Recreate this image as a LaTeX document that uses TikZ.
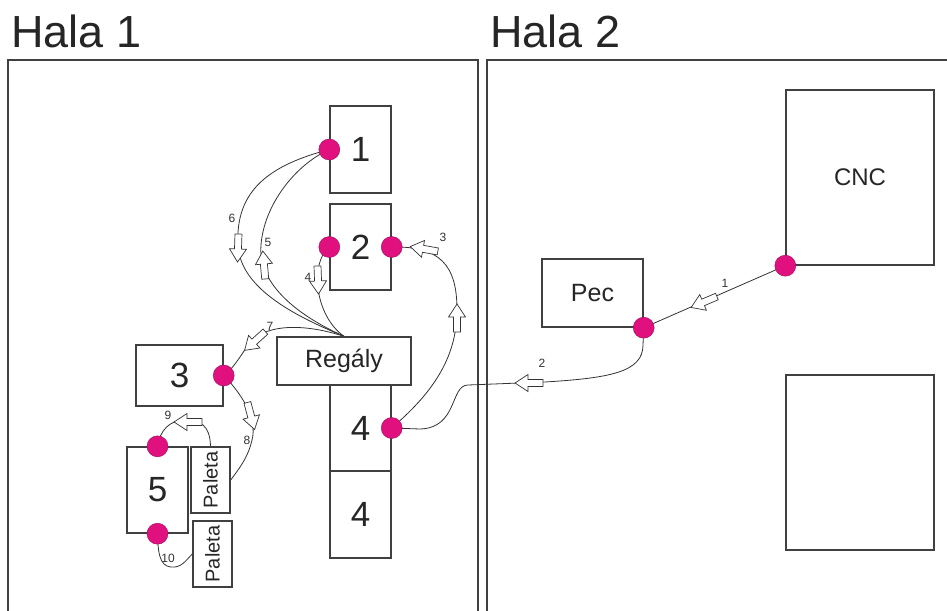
\documentclass[tikz,border=0pt]{standalone}
\usepackage{fontspec}
\setmainfont{Liberation Sans}
\pgfdeclarelayer{background}
\pgfsetlayers{background,main}
\definecolor{dotmag}{HTML}{E0117F}
\definecolor{edge}{HTML}{404040}
\definecolor{wire}{HTML}{333333}
\tikzset{
  box/.style={draw=edge, line width=1.4pt, rectangle, inner sep=0pt, fill=white, text=black!85},
  numbox/.style={box, font=\fontsize{35}{35}\selectfont},
  spot/.style={circle, fill=dotmag, draw=dotmag!70!black, line width=0.4pt, minimum size=21pt, inner sep=0pt},
  wireline/.style={draw=wire, line width=0.8pt},
  hallframe/.style={draw=edge, line width=1.5pt},
  routelabel/.style={font=\fontsize{12}{12}\selectfont, inner sep=0pt, text=wire},
  titletext/.style={font=\fontsize{45}{45}\selectfont, inner sep=0pt, anchor=base west, text=black!85},
  blockarr/.pic={\draw[draw=wire, line width=0.7pt, fill=white] (-14,-3.5) -- (1,-3.5) -- (1,-8.5) -- (14,0) -- (1,8.5) -- (1,3.5) -- (-14,3.5) -- cycle;},
}
\begin{document}
\begin{tikzpicture}[x=1pt,y=-1pt]
\useasboundingbox (0,0) rectangle (947,610);
\clip (0,0) rectangle (947,610);

% titles
\node[titletext] (t1) at (11,48) {Hala 1};
\node[titletext] (t2) at (490,48) {Hala 2};

% boxes
\node[numbox, minimum width=61pt, minimum height=87pt] (b1) at (360.5,149.5) {1};
\node[numbox, minimum width=61pt, minimum height=86pt] (b2) at (360.5,247) {2};
\node[box, minimum width=134pt, minimum height=48pt, font=\fontsize{25}{25}\selectfont] (reg) at (344,361) {Regály};
\node[numbox, minimum width=61pt, minimum height=86pt] (b4a) at (360.5,428) {4};
\node[numbox, minimum width=61pt, minimum height=87pt] (b4b) at (360.5,514.5) {4};
\node[numbox, minimum width=87pt, minimum height=61pt] (b3) at (179.5,375.5) {3};
\node[numbox, minimum width=61pt, minimum height=86pt] (b5) at (157.5,490) {5};
\node[box, minimum width=39pt, minimum height=66pt] (p1) at (210.5,480) {};
\node[font=\fontsize{20}{20}\selectfont, rotate=90, inner sep=0pt, text=black!85] (p1t) at (p1.center) {Paleta};
\node[box, minimum width=39pt, minimum height=66pt] (p2) at (212.5,554) {};
\node[font=\fontsize{20}{20}\selectfont, rotate=90, inner sep=0pt, text=black!85] (p2t) at (p2.center) {Paleta};
\node[box, minimum width=101pt, minimum height=68pt, font=\fontsize{25}{25}\selectfont] (pec) at (592.5,293) {Pec};
\node[box, minimum width=148pt, minimum height=175pt, font=\fontsize{24}{24}\selectfont] (cnc) at (860,177.5) {CNC};
\node[box, minimum width=148pt, minimum height=175pt] (empty) at (860,462.5) {};

% dots
\node[spot] (d1) at (b1.west) {};
\node[spot] (d2l) at (b2.west) {};
\node[spot] (d2r) at (b2.east) {};
\node[spot] (d3) at (b3.east) {};
\node[spot] (d4) at (b4a.east) {};
\node[spot] (d5t) at (b5.north) {};
\node[spot] (d5b) at (b5.south) {};
\node[spot] (dpec) at (pec.south east) {};
\node[spot] (dcnc) at (cnc.south west) {};

\begin{pgfonlayer}{background}
  \fill[white] (0,0) rectangle (947,610);
  \draw[hallframe] (8,60) rectangle (478,650);
  \draw[hallframe] (487,60) rectangle (980,650);
  % route 1
  \draw[wireline] (dcnc.center) -- (dpec.center);
  % route 2
  \draw[wireline] (dpec.center) -- (643,345) .. controls (643,372) and (610,378) .. (545,382) -- (468,385) .. controls (450,385) and (458,428) .. (420,429) -- (d4.center);
  % route 3
  \draw[wireline] (d4.center) .. controls (430,395) and (457,360) .. (457,310) .. controls (457,265) and (440,246) .. (d2r.center);
  % route 4
  \draw[wireline] (reg.north) .. controls (314,315) and (310,262) .. (d2l.center);
  % route 5
  \draw[wireline] (reg.north) .. controls (290,312) and (258,280) .. (261,245) .. controls (264,205) and (295,165) .. (d1.center);
  % route 6
  \draw[wireline] (d1.center) .. controls (270,165) and (235,190) .. (238,245) .. controls (240,290) and (300,318) .. (reg.north);
  % route 7
  \draw[wireline] (reg.north) .. controls (300,322) and (262,325) .. (248,345) .. controls (240,357) and (232,370) .. (d3.center);
  % route 8
  \draw[wireline] (d3.center) .. controls (240,392) and (258,418) .. (252,440) .. controls (248,458) and (238,470) .. (p1.east);
  % route 9
  \draw[wireline] (p1.north) .. controls (210,425) and (200,420) .. (185,420) .. controls (170,420) and (160,430) .. (d5t.center);
  % route 10
  \draw[wireline] (d5b.center) .. controls (158,560) and (162,568) .. (175,567) .. controls (183,566) and (188,558) .. (p2.west);
  % block arrows
  \pic[rotate=203] at (704,302) {blockarr};
  \pic[rotate=180] at (529,383) {blockarr};
  \pic[rotate=90] at (457,318) {blockarr};
  \pic[rotate=170] at (424,249) {blockarr};
  \pic[rotate=272] at (318,280) {blockarr};
  \pic[rotate=95] at (264,265) {blockarr};
  \pic[rotate=268] at (238,248) {blockarr};
  \pic[rotate=222] at (255,341) {blockarr};
  \pic[rotate=285] at (251,416) {blockarr};
  \pic[rotate=180] at (188,422) {blockarr};
\end{pgfonlayer}

% route labels
\node[routelabel] (l1) at (725,283) {1};
\node[routelabel] (l2) at (542,363) {2};
\node[routelabel] (l3) at (443,237) {3};
\node[routelabel] (l4) at (308,277) {4};
\node[routelabel] (l5) at (268,242) {5};
\node[routelabel] (l6) at (232,218) {6};
\node[routelabel] (l7) at (270,326) {7};
\node[routelabel] (l8) at (247,440) {8};
\node[routelabel] (l9) at (168,415) {9};
\node[routelabel] (l10) at (168,558) {10};
\end{tikzpicture}
\end{document}
